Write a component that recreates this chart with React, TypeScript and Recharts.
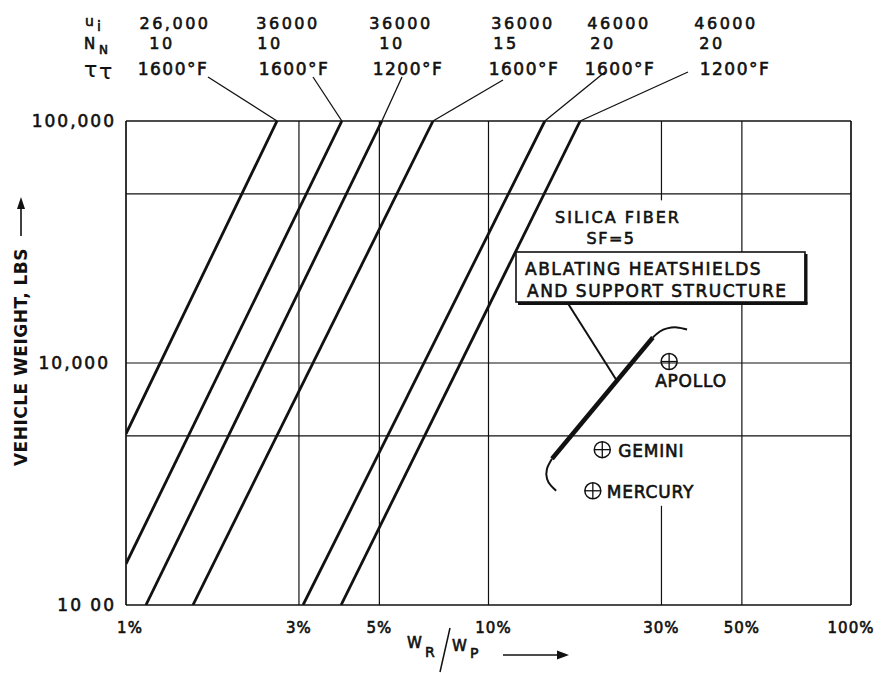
import React from 'react';
import { ComposedChart, Line, Scatter, XAxis, YAxis, ReferenceLine, ReferenceDot } from 'recharts';

// W_R/W_P (%) against vehicle weight (lbs), both log
const xTicks = [1, 3, 5, 10, 30, 50, 100];
const xTickLabels = ['1%', '3%', '5%', '10%', '30%', '50%', '100%'];
const yTicks = [1000, 10000, 100000];
const yTickLabels = ['10 00', '10,000', '100,000'];

// curve parameters written above the chart
const velocity = ['26,000', '36000', '36000', '36000', '46000', '46000'];
const noseRadius = ['10', '10', '10', '15', '20', '20'];
const temperature = ['1600°F', '1600°F', '1200°F', '1600°F', '1600°F', '1200°F'];

// silica fiber curves, bottom point then top point
const curve1 = [{ x: 1, y: 5100 }, { x: 2.61, y: 100000 }];
const curve2 = [{ x: 1, y: 1480 }, { x: 3.94, y: 100000 }];
const curve3 = [{ x: 1.135, y: 1000 }, { x: 5.08, y: 100000 }];
const curve4 = [{ x: 1.53, y: 1000 }, { x: 7.03, y: 100000 }];
const curve5 = [{ x: 3.08, y: 1000 }, { x: 14.3, y: 100000 }];
const curve6 = [{ x: 3.92, y: 1000 }, { x: 17.9, y: 100000 }];
const curves = [curve1, curve2, curve3, curve4, curve5, curve6];

// ablating heatshields band
const ablatingMain = [{ x: 28.4, y: 12750 }, { x: 14.97, y: 4023 }];
const ablatingTop = [
  { x: 28.4, y: 12750 }, { x: 29.7, y: 13490 }, { x: 31.1, y: 13900 },
  { x: 33.1, y: 14030 }, { x: 35.3, y: 13760 },
];
const ablatingBottom = [
  { x: 14.97, y: 4023 }, { x: 14.5, y: 3656 }, { x: 14.5, y: 3326 },
  { x: 14.87, y: 3112 }, { x: 15.37, y: 2965 },
];
const ablatingPointer = { x: 22.6, y: 8450 };

// vehicles
const apollo = [{ x: 31.5, y: 10140 }];
const gemini = [{ x: 20.6, y: 4385 }];
const mercury = [{ x: 19.4, y: 2965 }];

// layout of the header text (pixels)
const headerCols = [
  { u: 175, n: 162, t: 173, lx: 208, ly: 77 },
  { u: 288, n: 270, t: 294, lx: 313, ly: 77 },
  { u: 401, n: 392, t: 408, lx: 402, ly: 77 },
  { u: 523, n: 506, t: 524, lx: 503, ly: 80 },
  { u: 619, n: 603, t: 620, lx: 605, ly: 72 },
  { u: 726, n: 712, t: 735, lx: 688, ly: 72 },
];

const FONT = '"DejaVu Sans", sans-serif';
const INK = '#111';
const txt = { fontFamily: FONT, fill: INK, stroke: INK, strokeWidth: 0.6 } as const;

const XTick = (p: any) => {
  const i = xTicks.indexOf(p.payload.value);
  return (
    <text x={p.x + (i === 0 ? 4 : i === 3 ? 5 : 0)} y={633} textAnchor="middle" fontSize={15} letterSpacing={1} {...txt}>
      {xTickLabels[i]}
    </text>
  );
};

const YTick = (p: any) => {
  const i = yTicks.indexOf(p.payload.value);
  return (
    <text x={i === 1 ? 110 : 116} y={p.y + 6} textAnchor="end" fontSize={17} letterSpacing={2} {...txt}>
      {yTickLabels[i]}
    </text>
  );
};

const header = (i: number) => (p: any) => {
  const c = headerCols[i];
  return (
    <g>
      <line x1={p.cx} y1={p.cy} x2={c.lx} y2={c.ly} stroke={INK} strokeWidth={1.3} />
      <text x={c.u} y={29} textAnchor="middle" fontSize={16} letterSpacing={2.5} {...txt}>{velocity[i]}</text>
      <text x={c.n} y={49} textAnchor="middle" fontSize={16} letterSpacing={2.5} {...txt}>{noseRadius[i]}</text>
      <text x={c.t} y={75} textAnchor="middle" fontSize={17} letterSpacing={1.5} {...txt}>{temperature[i]}</text>
    </g>
  );
};

const marker = (name: string, dx: number, dy: number) => (p: any) => (
  <g>
    <circle cx={p.cx} cy={p.cy} r={8} fill="none" stroke={INK} strokeWidth={1.5} />
    <line x1={p.cx - 8} y1={p.cy} x2={p.cx + 8} y2={p.cy} stroke={INK} strokeWidth={1.3} />
    <line x1={p.cx} y1={p.cy - 8} x2={p.cx} y2={p.cy + 8} stroke={INK} strokeWidth={1.3} />
    <text x={p.cx + dx} y={p.cy + dy} fontSize={17} letterSpacing={0.8} {...txt}>{name}</text>
  </g>
);

const boxPointer = (p: any) => (
  <line x1={p.cx} y1={p.cy} x2={p.cx - 50} y2={p.cy - 79} stroke={INK} strokeWidth={2} />
);

export default function App() {
  const grid = { stroke: INK, strokeWidth: 1.2 };
  const edge = { stroke: INK, strokeWidth: 1.7 };
  return (
    <div style={{ position: 'absolute', left: 0, top: 0, width: 888, height: 673, background: '#fff' }}>
      <ComposedChart width={888} height={673} margin={{ top: 121, right: 37, bottom: 38, left: 66 }}>
        <XAxis type="number" dataKey="x" scale="log" domain={[1, 100]} ticks={xTicks} interval={0}
          allowDataOverflow axisLine={false} tickLine={false} height={30} tick={<XTick />} />
        <YAxis type="number" dataKey="y" scale="log" domain={[1000, 100000]} ticks={yTicks} interval={0}
          allowDataOverflow axisLine={false} tickLine={false} width={60} tick={<YTick />} />

        {[50000, 10000, 5000].map((v) => <ReferenceLine key={'h' + v} y={v} {...grid} />)}
        {[3, 5, 10, 50].map((v) => <ReferenceLine key={'v' + v} x={v} {...grid} />)}
        <ReferenceLine segment={[{ x: 30, y: 100000 }, { x: 30, y: 47000 }]} {...grid} />
        <ReferenceLine segment={[{ x: 30, y: 2570 }, { x: 30, y: 1000 }]} {...grid} />
        <ReferenceLine x={1} {...edge} />
        <ReferenceLine x={100} {...edge} />
        <ReferenceLine y={1000} {...edge} />
        <ReferenceLine y={100000} {...edge} />

        {curves.map((d, i) => (
          <Line key={'c' + i} data={d} dataKey="y" stroke={INK} strokeWidth={2.8} dot={false}
            isAnimationActive={false} />
        ))}
        {curves.map((d, i) => (
          <ReferenceDot key={'hd' + i} x={d[1].x} y={d[1].y} r={0} ifOverflow="visible" shape={header(i)} />
        ))}

        <Line data={ablatingMain} dataKey="y" stroke={INK} strokeWidth={4.5} dot={false} isAnimationActive={false} />
        <Line data={ablatingTop} dataKey="y" type="natural" stroke={INK} strokeWidth={2} dot={false} isAnimationActive={false} />
        <Line data={ablatingBottom} dataKey="y" type="natural" stroke={INK} strokeWidth={2} dot={false} isAnimationActive={false} />
        <ReferenceDot x={ablatingPointer.x} y={ablatingPointer.y} r={0} ifOverflow="visible" shape={boxPointer} />

        <Scatter data={apollo} shape={marker('APOLLO', -14, 25)} isAnimationActive={false} />
        <Scatter data={gemini} shape={marker('GEMINI', 16, 7)} isAnimationActive={false} />
        <Scatter data={mercury} shape={marker('MERCURY', 14, 7)} isAnimationActive={false} />
      </ComposedChart>

      <svg width={888} height={673} style={{ position: 'absolute', left: 0, top: 0, pointerEvents: 'none' }}>
        {/* row names */}
        <text x={85} y={26} fontSize={14} {...txt}>u</text>
        <text x={97} y={31} fontSize={14} {...txt}>i</text>
        <text x={84} y={49} fontSize={15} {...txt}>N</text>
        <text x={99} y={54} fontSize={12} {...txt}>N</text>
        <text x={84} y={77} fontSize={22} {...txt} strokeWidth={0.2}>τ</text>
        <text x={99} y={79} fontSize={22} {...txt} strokeWidth={0.2}>τ</text>

        <text x={618} y={223} textAnchor="middle" fontSize={16} letterSpacing={2} {...txt}>SILICA FIBER</text>
        <text x={611} y={244} textAnchor="middle" fontSize={16} letterSpacing={1.5} {...txt}>SF=5</text>

        <rect x={516} y={252} width={289} height={50} fill="#fff" stroke={INK} strokeWidth={1.6} />
        <line x1={806} y1={254} x2={806} y2={304} stroke={INK} strokeWidth={3} />
        <line x1={518} y1={303.5} x2={807.5} y2={303.5} stroke={INK} strokeWidth={3} />
        <text x={525} y={275} fontSize={17} letterSpacing={1.5} {...txt}>ABLATING HEATSHIELDS</text>
        <text x={527} y={297} fontSize={17} letterSpacing={1.5} {...txt}>AND SUPPORT STRUCTURE</text>

        {/* y title */}
        <text x={27} y={357} transform="rotate(-90 27 357)" textAnchor="middle" fontSize={17} fontWeight="bold"
          letterSpacing={0.5} fontFamily={FONT} fill={INK}>VEHICLE WEIGHT, LBS</text>
        <line x1={21} y1={236} x2={21} y2={206} stroke={INK} strokeWidth={1.6} />
        <polygon points="21,197 17,209 25,209" fill={INK} />

        {/* x title */}
        <text x={407} y={648} fontSize={15} {...txt}>W</text>
        <text x={425} y={657} fontSize={14} {...txt}>R</text>
        <line x1={450} y1={628} x2={440} y2={672} stroke={INK} strokeWidth={1.5} />
        <text x={452} y={651} fontSize={15} {...txt}>W</text>
        <text x={470} y={658} fontSize={14} {...txt}>P</text>
        <line x1={503} y1={655} x2={560} y2={655} stroke={INK} strokeWidth={1.6} />
        <polygon points="569,655 557,650.5 557,659.5" fill={INK} />
      </svg>
    </div>
  );
}
